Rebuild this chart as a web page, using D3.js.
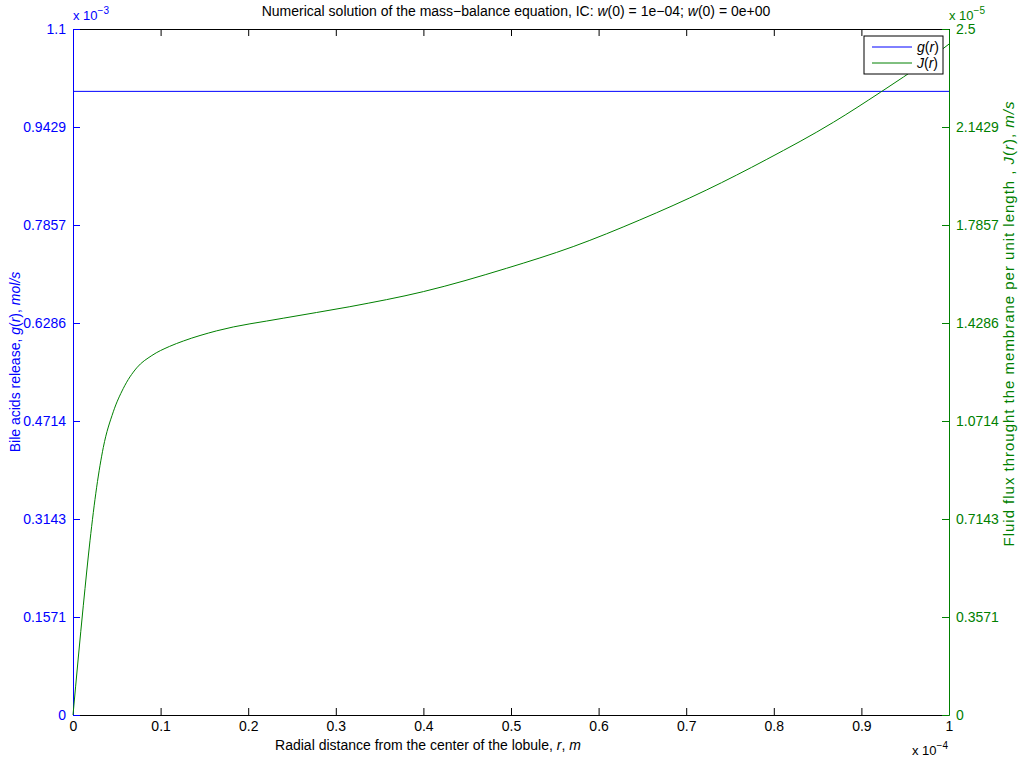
<!DOCTYPE html>
<head>
  <title>Mass-balance solution</title>
  <meta charset="utf-8">
  <script src="https://cdn.jsdelivr.net/npm/d3@7"></script>
  <style>
    body { margin: 0; background: #fff; }
    text { font-family: "Liberation Sans", Arial, sans-serif; }
  </style>
</head>
<body>
<div id="container"></div>
<script>
  // radial distance, units of 1e-4 m
  const rValues = [0, 0.0118, 0.0194, 0.027, 0.0346, 0.046, 0.0574, 0.0727, 0.09, 0.11,
    0.126, 0.164, 0.24, 0.316, 0.40, 0.495, 0.571, 0.647, 0.723, 0.792, 0.868, 0.922, 0.948, 0.975, 1.0];
  // fluid flux J(r), units of 1e-5 m/s
  const jValues = [0, 0.40, 0.635, 0.83, 0.975, 1.105, 1.19, 1.265, 1.31, 1.343,
    1.363, 1.40, 1.446, 1.488, 1.543, 1.628, 1.707, 1.804, 1.913, 2.025, 2.16, 2.27, 2.325, 2.385, 2.445];
  // bile acids release g(r), units of 1e-3 mol/s (constant)
  const gR = [0, 1.0];
  const gValues = [1.0, 1.0];

  const xTicks = [0, 0.1, 0.2, 0.3, 0.4, 0.5, 0.6, 0.7, 0.8, 0.9, 1];
  const xTickLabels = ['0', '0.1', '0.2', '0.3', '0.4', '0.5', '0.6', '0.7', '0.8', '0.9', '1'];
  const leftTicks = [0, 1.1/7, 2.2/7, 3.3/7, 4.4/7, 5.5/7, 6.6/7, 1.1];
  const leftTickLabels = ['0', '0.1571', '0.3143', '0.4714', '0.6286', '0.7857', '0.9429', '1.1'];
  const rightTicks = [0, 2.5/7, 5/7, 7.5/7, 10/7, 12.5/7, 15/7, 2.5];
  const rightTickLabels = ['0', '0.3571', '0.7143', '1.0714', '1.4286', '1.7857', '2.1429', '2.5'];

  const width = 1023, height = 768;
  const margin = {top: 29, right: 74, bottom: 53, left: 73};
  const plotW = width - margin.left - margin.right;
  const plotH = height - margin.top - margin.bottom;

  const blue = '#0000ff', green = '#008000';

  const svg = d3.select('div#container').append('svg')
    .attr('width', width)
    .attr('height', height);

  const g = svg.append('g')
    .attr('transform', `translate(${margin.left},${margin.top})`);

  const x = d3.scaleLinear().domain([0, 1]).range([0, plotW]);
  const yLeft = d3.scaleLinear().domain([0, 1.1]).range([plotH, 0]);
  const yRight = d3.scaleLinear().domain([0, 2.5]).range([plotH, 0]);

  // top axis (box), ticks pointing down
  const topAxis = g.append('g')
    .call(d3.axisTop(x).tickValues(xTicks).tickSize(-7).tickSizeOuter(0).tickFormat(''));
  topAxis.selectAll('path, line').attr('stroke', '#000');

  // bottom axis, ticks pointing up
  const bottomAxis = g.append('g')
    .attr('transform', `translate(0,${plotH})`)
    .call(d3.axisBottom(x).tickValues(xTicks).tickSize(-7).tickSizeOuter(0)
      .tickPadding(6).tickFormat((d, i) => xTickLabels[i]));
  bottomAxis.selectAll('path, line').attr('stroke', '#000');
  bottomAxis.selectAll('text').attr('fill', '#000').style('font-size', '14px');

  // left axis
  const leftAxis = g.append('g')
    .call(d3.axisLeft(yLeft).tickValues(leftTicks).tickSize(-7).tickSizeOuter(0)
      .tickPadding(7).tickFormat((d, i) => leftTickLabels[i]));
  leftAxis.selectAll('path, line').attr('stroke', blue);
  leftAxis.selectAll('text').attr('fill', blue).style('font-size', '14px');

  // right axis
  const rightAxis = g.append('g')
    .attr('transform', `translate(${plotW},0)`)
    .call(d3.axisRight(yRight).tickValues(rightTicks).tickSize(-7).tickSizeOuter(0)
      .tickPadding(7).tickFormat((d, i) => rightTickLabels[i]));
  rightAxis.selectAll('path, line').attr('stroke', green);
  rightAxis.selectAll('text').attr('fill', green).style('font-size', '14px');

  // g(r) line
  const gLine = d3.line().x((d, i) => x(gR[i])).y(d => yLeft(d));
  g.append('path')
    .attr('d', gLine(gValues))
    .attr('fill', 'none')
    .attr('stroke', blue)
    .attr('stroke-width', 1);

  // J(r) curve
  const jLine = d3.line()
    .x((d, i) => x(rValues[i]))
    .y(d => yRight(d))
    .curve(d3.curveMonotoneX);
  g.append('path')
    .attr('d', jLine(jValues))
    .attr('fill', 'none')
    .attr('stroke', green)
    .attr('stroke-width', 1);

  // exponent labels
  function expLabel(px, py, exp, color) {
    const t = svg.append('text')
      .attr('x', px).attr('y', py)
      .attr('fill', color)
      .style('font-size', '13px');
    t.append('tspan').text('x 10');
    t.append('tspan').attr('dy', -6).style('font-size', '10px').text(exp);
  }
  expLabel(73, 20, '\u22123', blue);
  expLabel(949, 20, '\u22125', green);
  expLabel(912, 755, '\u22124', '#000');

  // title
  const title = svg.append('text')
    .attr('x', 516).attr('y', 16)
    .attr('text-anchor', 'middle')
    .style('font-size', '14px');
  title.append('tspan').text('Numerical solution of the mass\u2212balance equation, IC: ');
  title.append('tspan').style('font-style', 'italic').text('w');
  title.append('tspan').text('(0) = 1e\u221204; ');
  title.append('tspan').style('font-style', 'italic').text('w');
  title.append('tspan').text('(0) = 0e+00');

  // x label
  const xLabel = svg.append('text')
    .attr('x', 428).attr('y', 750)
    .attr('text-anchor', 'middle')
    .style('font-size', '14px');
  xLabel.append('tspan').text('Radial distance from the center of the lobule, ');
  xLabel.append('tspan').style('font-style', 'italic').text('r');
  xLabel.append('tspan').text(', ');
  xLabel.append('tspan').style('font-style', 'italic').text('m');

  // left y label
  const yLabelL = svg.append('text')
    .attr('transform', 'translate(20,362) rotate(-90)')
    .attr('text-anchor', 'middle')
    .attr('fill', blue)
    .style('font-size', '14px');
  yLabelL.append('tspan').text('Bile acids release, ');
  yLabelL.append('tspan').style('font-style', 'italic').text('g');
  yLabelL.append('tspan').text('(');
  yLabelL.append('tspan').style('font-style', 'italic').text('r');
  yLabelL.append('tspan').text('), ');
  yLabelL.append('tspan').style('font-style', 'italic').text('mol/s');

  // right y label
  const yLabelR = svg.append('text')
    .attr('transform', 'translate(1014,324) rotate(-90)')
    .attr('text-anchor', 'middle')
    .attr('fill', green)
    .attr('textLength', 445)
    .attr('lengthAdjust', 'spacing')
    .style('font-size', '15px');
  yLabelR.append('tspan').text('Fluid flux throught the membrane per unit length , ');
  yLabelR.append('tspan').style('font-style', 'italic').text('J');
  yLabelR.append('tspan').text('(');
  yLabelR.append('tspan').style('font-style', 'italic').text('r');
  yLabelR.append('tspan').text('), ');
  yLabelR.append('tspan').style('font-style', 'italic').text('m/s');

  // legend
  const legendItems = ['g', 'J'];
  const legendColors = [blue, green];
  const legend = svg.append('g').attr('transform', 'translate(864,36)');
  legend.append('rect')
    .attr('width', 79).attr('height', 38)
    .attr('fill', '#fff').attr('stroke', '#000');
  const li = legend.selectAll('.item')
    .data(legendItems)
    .enter().append('g')
    .attr('transform', (d, i) => `translate(0,${11 + 16 * i})`);
  li.append('line')
    .attr('x1', 8).attr('x2', 48)
    .attr('stroke', (d, i) => legendColors[i]);
  const lt = li.append('text')
    .attr('x', 53).attr('y', 5)
    .style('font-size', '14px');
  lt.append('tspan').style('font-style', 'italic').text(d => d);
  lt.append('tspan').text('(');
  lt.append('tspan').style('font-style', 'italic').text('r');
  lt.append('tspan').text(')');
</script>
</body>
